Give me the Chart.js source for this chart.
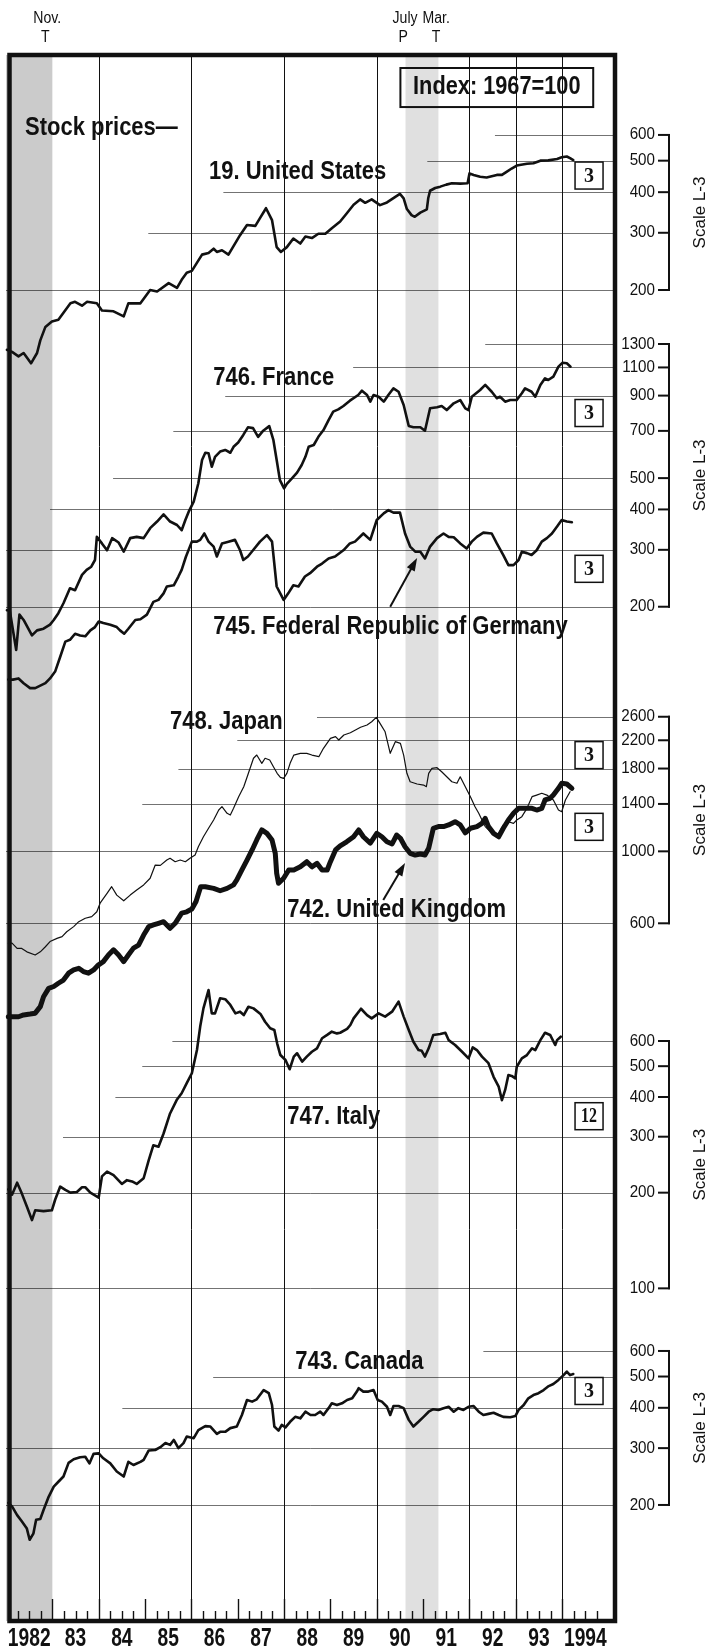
<!DOCTYPE html>
<html>
<head>
<meta charset="utf-8">
<title>Stock prices</title>
<script src="https://cdn.jsdelivr.net/npm/chart.js@4/dist/chart.umd.min.js"></script>
<style>
  html, body { margin: 0; padding: 0; background: #fff; }
  #chart { display: block; width: 707px; height: 1652px; }
</style>
</head>
<body>
<canvas id="chart" width="707" height="1652"></canvas>
<script>
// Monthly stock price indexes (1967=100), read as decimal years.
const usDates = [1982.02, 1982.13, 1982.27, 1982.38, 1982.54, 1982.67, 1982.74, 1982.85, 1982.99, 1983.13, 1983.39, 1983.49, 1983.64, 1983.75, 1983.96, 1984.07, 1984.32, 1984.54, 1984.64, 1984.9, 1985.11, 1985.26, 1985.51, 1985.69, 1985.79, 1985.9, 1986.01, 1986.23, 1986.37, 1986.48, 1986.55, 1986.66, 1986.8, 1987.05, 1987.2, 1987.38, 1987.48, 1987.61, 1987.74, 1987.84, 1987.93, 1988.06, 1988.2, 1988.35, 1988.46, 1988.6, 1988.74, 1988.89, 1989.03, 1989.21, 1989.35, 1989.5, 1989.64, 1989.75, 1989.89, 1989.96, 1990.07, 1990.22, 1990.4, 1990.5, 1990.58, 1990.65, 1990.75, 1990.82, 1990.94, 1991.08, 1991.11, 1991.15, 1991.26, 1991.37, 1991.5, 1991.62, 1991.8, 1991.96, 1992.0, 1992.09, 1992.23, 1992.37, 1992.59, 1992.7, 1992.8, 1992.91, 1993.02, 1993.24, 1993.38, 1993.53, 1993.7, 1993.89, 1993.99, 1994.1, 1994.17, 1994.24];
const usIndex = [131, 129, 125, 128, 119, 128, 140, 154, 160, 162, 182, 184, 179, 184, 182, 173, 172, 166, 182, 182, 200, 198, 210, 203, 215, 226, 229, 257, 260, 268, 262, 265, 257, 295, 317, 315, 333, 357, 328, 271, 262, 271, 288, 278, 292, 289, 298, 298, 310, 325, 344, 366, 380, 371, 380, 374, 365, 372, 387, 395, 383, 355, 340, 336, 346, 354, 383, 404, 412, 416, 422, 426, 425, 426, 457, 452, 446, 444, 452, 452, 462, 473, 483, 489, 491, 500, 501, 506, 512, 515, 509, 502];

const frDates = [1982.02, 1982.08, 1982.22, 1982.29, 1982.38, 1982.56, 1982.67, 1982.81, 1982.95, 1983.03, 1983.13, 1983.24, 1983.38, 1983.49, 1983.64, 1983.74, 1983.84, 1983.92, 1983.96, 1984.07, 1984.18, 1984.29, 1984.43, 1984.54, 1984.68, 1984.82, 1984.97, 1985.11, 1985.26, 1985.4, 1985.54, 1985.69, 1985.79, 1985.87, 1985.94, 1986.05, 1986.15, 1986.23, 1986.3, 1986.37, 1986.44, 1986.51, 1986.62, 1986.73, 1986.84, 1986.91, 1987.01, 1987.12, 1987.22, 1987.33, 1987.44, 1987.55, 1987.68, 1987.77, 1987.84, 1987.91, 1988.0, 1988.06, 1988.17, 1988.28, 1988.38, 1988.46, 1988.53, 1988.64, 1988.74, 1988.85, 1988.96, 1989.06, 1989.17, 1989.28, 1989.42, 1989.6, 1989.68, 1989.79, 1989.86, 1989.93, 1990.04, 1990.15, 1990.25, 1990.36, 1990.47, 1990.58, 1990.69, 1990.79, 1990.94, 1991.04, 1991.15, 1991.3, 1991.4, 1991.51, 1991.66, 1991.8, 1991.91, 1991.98, 1992.05, 1992.23, 1992.34, 1992.48, 1992.59, 1992.66, 1992.77, 1992.88, 1993.02, 1993.13, 1993.2, 1993.34, 1993.42, 1993.53, 1993.63, 1993.7, 1993.81, 1993.92, 1994.01, 1994.1, 1994.18];
const frIndex = [195, 195, 147, 189, 182, 163, 169, 171, 176, 182, 191, 205, 228, 225, 251, 260, 266, 279, 329, 314, 299, 326, 316, 296, 326, 329, 326, 350, 367, 386, 367, 358, 345, 371, 393, 423, 482, 569, 599, 597, 542, 582, 604, 611, 599, 625, 644, 680, 718, 714, 671, 701, 724, 655, 569, 493, 465, 480, 499, 520, 549, 582, 625, 633, 671, 704, 756, 803, 816, 836, 868, 904, 932, 904, 862, 904, 893, 862, 904, 948, 925, 842, 725, 718, 718, 701, 822, 828, 836, 812, 852, 872, 822, 812, 893, 937, 971, 925, 883, 893, 862, 872, 872, 915, 948, 925, 893, 971, 1018, 1006, 1030, 1106, 1138, 1133, 1106];

const deDates = [1982.05, 1982.15, 1982.27, 1982.38, 1982.52, 1982.63, 1982.74, 1982.85, 1982.95, 1983.06, 1983.17, 1983.28, 1983.38, 1983.49, 1983.6, 1983.71, 1983.82, 1983.92, 1984.0, 1984.1, 1984.25, 1984.39, 1984.46, 1984.55, 1984.64, 1984.79, 1984.9, 1985.04, 1985.18, 1985.29, 1985.4, 1985.47, 1985.62, 1985.72, 1985.79, 1985.88, 1986.01, 1986.12, 1986.19, 1986.28, 1986.37, 1986.48, 1986.55, 1986.66, 1986.8, 1986.94, 1987.05, 1987.12, 1987.22, 1987.33, 1987.48, 1987.63, 1987.74, 1987.84, 1987.99, 1988.09, 1988.2, 1988.31, 1988.45, 1988.56, 1988.71, 1988.82, 1988.96, 1989.1, 1989.28, 1989.42, 1989.53, 1989.71, 1989.86, 1990.0, 1990.15, 1990.25, 1990.36, 1990.5, 1990.61, 1990.72, 1990.83, 1990.94, 1991.04, 1991.15, 1991.3, 1991.44, 1991.55, 1991.66, 1991.8, 1991.94, 1992.05, 1992.16, 1992.3, 1992.48, 1992.59, 1992.73, 1992.84, 1992.95, 1993.06, 1993.13, 1993.24, 1993.34, 1993.45, 1993.56, 1993.67, 1993.78, 1993.89, 1993.99, 1994.1, 1994.21];
const deIndex = [119, 119, 120, 116, 112, 112, 114, 116, 120, 126, 140, 156, 158, 165, 163, 162, 169, 173, 180, 178, 176, 173, 169, 165, 171, 182, 183, 189, 207, 210, 220, 231, 233, 248, 260, 285, 318, 318, 322, 337, 318, 307, 286, 314, 318, 322, 299, 279, 286, 299, 318, 333, 318, 231, 210, 220, 233, 231, 248, 254, 266, 272, 282, 286, 299, 314, 318, 337, 322, 371, 389, 398, 391, 391, 337, 307, 296, 296, 282, 307, 326, 337, 329, 328, 314, 303, 318, 329, 339, 337, 314, 289, 269, 269, 279, 296, 293, 289, 299, 318, 326, 337, 354, 371, 367, 365];

const jpDates = [1982.05, 1982.13, 1982.24, 1982.34, 1982.45, 1982.63, 1982.74, 1982.85, 1982.95, 1983.1, 1983.21, 1983.31, 1983.46, 1983.57, 1983.71, 1983.85, 1983.96, 1984.03, 1984.18, 1984.28, 1984.39, 1984.54, 1984.68, 1984.82, 1984.97, 1985.11, 1985.22, 1985.33, 1985.47, 1985.54, 1985.65, 1985.76, 1985.87, 1985.97, 1986.08, 1986.15, 1986.26, 1986.37, 1986.48, 1986.59, 1986.66, 1986.77, 1986.84, 1986.91, 1987.02, 1987.13, 1987.23, 1987.34, 1987.41, 1987.52, 1987.59, 1987.69, 1987.77, 1987.85, 1987.92, 1987.99, 1988.06, 1988.13, 1988.21, 1988.35, 1988.49, 1988.6, 1988.75, 1988.85, 1989.0, 1989.11, 1989.18, 1989.29, 1989.43, 1989.54, 1989.65, 1989.79, 1989.89, 1989.99, 1990.07, 1990.18, 1990.29, 1990.4, 1990.51, 1990.58, 1990.65, 1990.72, 1990.87, 1991.01, 1991.07, 1991.12, 1991.19, 1991.3, 1991.4, 1991.51, 1991.62, 1991.73, 1991.8, 1991.91, 1992.02, 1992.12, 1992.2, 1992.27, 1992.34, 1992.45, 1992.59, 1992.73, 1992.84, 1992.95, 1993.02, 1993.13, 1993.24, 1993.35, 1993.45, 1993.56, 1993.67, 1993.81, 1993.92, 1993.99, 1994.07, 1994.17];
const jpIndex = [521, 521, 502, 502, 490, 479, 490, 508, 527, 539, 546, 565, 586, 607, 622, 629, 651, 692, 742, 778, 733, 704, 733, 760, 788, 826, 907, 905, 940, 952, 929, 940, 929, 952, 974, 1033, 1109, 1178, 1249, 1341, 1373, 1310, 1294, 1357, 1474, 1582, 1740, 1936, 1981, 1868, 1936, 1912, 1824, 1740, 1691, 1679, 1740, 1868, 1981, 2005, 2005, 1981, 1958, 2078, 2231, 2257, 2204, 2284, 2321, 2366, 2413, 2452, 2510, 2589, 2481, 2337, 2005, 2178, 2153, 1981, 1740, 1639, 1613, 1601, 1582, 1740, 1803, 1811, 1760, 1698, 1639, 1621, 1698, 1582, 1474, 1373, 1310, 1249, 1192, 1150, 1109, 1206, 1234, 1220, 1249, 1279, 1357, 1474, 1491, 1510, 1491, 1440, 1341, 1325, 1440, 1527];

const ukDates = [1982.05, 1982.13, 1982.27, 1982.38, 1982.52, 1982.63, 1982.74, 1982.81, 1982.92, 1983.03, 1983.13, 1983.24, 1983.35, 1983.46, 1983.57, 1983.67, 1983.78, 1983.89, 1983.99, 1984.1, 1984.21, 1984.32, 1984.43, 1984.54, 1984.64, 1984.75, 1984.86, 1984.97, 1985.08, 1985.18, 1985.29, 1985.4, 1985.54, 1985.65, 1985.79, 1985.9, 1986.01, 1986.1, 1986.2, 1986.3, 1986.48, 1986.62, 1986.77, 1986.91, 1986.98, 1987.09, 1987.2, 1987.31, 1987.41, 1987.52, 1987.63, 1987.74, 1987.81, 1987.84, 1987.88, 1987.99, 1988.1, 1988.21, 1988.35, 1988.49, 1988.6, 1988.71, 1988.82, 1988.93, 1989.0, 1989.11, 1989.21, 1989.35, 1989.5, 1989.61, 1989.71, 1989.86, 1990.0, 1990.11, 1990.22, 1990.33, 1990.43, 1990.51, 1990.61, 1990.72, 1990.83, 1990.94, 1991.04, 1991.12, 1991.22, 1991.33, 1991.44, 1991.55, 1991.69, 1991.8, 1991.91, 1992.02, 1992.16, 1992.27, 1992.34, 1992.41, 1992.52, 1992.63, 1992.73, 1992.84, 1992.95, 1993.06, 1993.2, 1993.35, 1993.45, 1993.56, 1993.63, 1993.74, 1993.81, 1993.92, 1993.99, 1994.1, 1994.21];
const ukIndex = [309, 309, 309, 313, 315, 317, 332, 356, 378, 383, 392, 401, 421, 431, 436, 426, 421, 431, 446, 457, 479, 497, 479, 457, 479, 503, 514, 552, 586, 593, 600, 607, 579, 600, 645, 651, 664, 700, 778, 778, 769, 756, 769, 788, 816, 876, 940, 1010, 1084, 1164, 1136, 1084, 986, 856, 797, 826, 876, 876, 896, 929, 896, 918, 876, 876, 929, 1010, 1040, 1070, 1109, 1164, 1109, 1060, 1136, 1109, 1070, 1054, 1123, 1097, 1033, 986, 974, 981, 974, 1022, 1178, 1192, 1192, 1206, 1234, 1206, 1141, 1178, 1192, 1220, 1264, 1192, 1136, 1109, 1178, 1249, 1310, 1357, 1357, 1357, 1341, 1357, 1440, 1457, 1491, 1564, 1621, 1613, 1564];

const itDates = [1982.05, 1982.13, 1982.24, 1982.34, 1982.45, 1982.56, 1982.63, 1982.81, 1982.99, 1983.06, 1983.17, 1983.28, 1983.39, 1983.53, 1983.64, 1983.71, 1983.82, 1984.0, 1984.07, 1984.18, 1984.32, 1984.5, 1984.61, 1984.72, 1984.82, 1984.97, 1985.08, 1985.18, 1985.29, 1985.4, 1985.54, 1985.69, 1985.79, 1985.9, 1986.01, 1986.12, 1986.19, 1986.26, 1986.37, 1986.44, 1986.51, 1986.62, 1986.73, 1986.84, 1986.95, 1987.05, 1987.13, 1987.23, 1987.34, 1987.49, 1987.59, 1987.7, 1987.79, 1987.85, 1987.92, 1988.03, 1988.12, 1988.21, 1988.28, 1988.39, 1988.49, 1988.6, 1988.71, 1988.82, 1988.93, 1989.03, 1989.14, 1989.21, 1989.36, 1989.43, 1989.5, 1989.66, 1989.79, 1989.89, 1990.04, 1990.18, 1990.33, 1990.47, 1990.58, 1990.69, 1990.79, 1990.9, 1990.97, 1991.04, 1991.12, 1991.22, 1991.37, 1991.48, 1991.55, 1991.69, 1991.84, 1991.98, 1992.07, 1992.16, 1992.27, 1992.41, 1992.52, 1992.63, 1992.7, 1992.77, 1992.84, 1992.91, 1992.99, 1993.02, 1993.13, 1993.24, 1993.35, 1993.42, 1993.53, 1993.63, 1993.74, 1993.85, 1993.89, 1993.97];
const itIndex = [205, 197, 215, 199, 181, 164, 176, 175, 176, 190, 209, 204, 200, 201, 208, 208, 200, 193, 225, 233, 227, 213, 219, 217, 213, 222, 253, 282, 279, 307, 355, 393, 411, 442, 475, 562, 666, 760, 868, 733, 733, 818, 812, 779, 733, 742, 724, 769, 760, 730, 690, 658, 650, 590, 542, 523, 489, 536, 549, 517, 536, 555, 569, 612, 627, 642, 634, 637, 655, 674, 707, 758, 724, 707, 733, 716, 742, 798, 716, 650, 597, 562, 559, 536, 569, 627, 631, 637, 604, 583, 555, 529, 573, 562, 536, 511, 463, 431, 391, 421, 469, 466, 458, 498, 529, 542, 569, 562, 604, 637, 627, 583, 604, 619];

const caDates = [1982.05, 1982.13, 1982.24, 1982.34, 1982.45, 1982.51, 1982.59, 1982.65, 1982.74, 1982.81, 1982.92, 1983.03, 1983.13, 1983.24, 1983.35, 1983.46, 1983.6, 1983.71, 1983.8, 1983.89, 1984.0, 1984.1, 1984.25, 1984.39, 1984.54, 1984.64, 1984.75, 1984.9, 1984.97, 1985.08, 1985.22, 1985.33, 1985.44, 1985.54, 1985.62, 1985.72, 1985.83, 1985.9, 1986.05, 1986.15, 1986.3, 1986.41, 1986.55, 1986.62, 1986.73, 1986.84, 1986.98, 1987.09, 1987.2, 1987.31, 1987.41, 1987.56, 1987.67, 1987.74, 1987.79, 1987.88, 1987.95, 1988.03, 1988.13, 1988.24, 1988.35, 1988.46, 1988.57, 1988.67, 1988.78, 1988.85, 1988.96, 1989.03, 1989.14, 1989.25, 1989.36, 1989.47, 1989.57, 1989.61, 1989.71, 1989.82, 1989.93, 1990.02, 1990.11, 1990.22, 1990.29, 1990.36, 1990.47, 1990.58, 1990.69, 1990.79, 1990.9, 1991.01, 1991.12, 1991.22, 1991.33, 1991.44, 1991.55, 1991.66, 1991.76, 1991.87, 1991.98, 1992.09, 1992.2, 1992.3, 1992.41, 1992.52, 1992.63, 1992.73, 1992.88, 1992.99, 1993.06, 1993.17, 1993.27, 1993.38, 1993.49, 1993.6, 1993.71, 1993.81, 1993.92, 1994.03, 1994.1, 1994.17, 1994.24];
const caIndex = [203, 198, 186, 178, 169, 156, 163, 180, 181, 193, 212, 228, 236, 245, 270, 277, 281, 282, 269, 288, 289, 279, 269, 254, 245, 272, 266, 272, 276, 295, 296, 302, 311, 307, 318, 300, 311, 326, 322, 341, 351, 350, 332, 337, 337, 346, 350, 380, 423, 418, 425, 454, 444, 408, 350, 340, 354, 348, 362, 375, 371, 389, 380, 380, 389, 380, 399, 413, 408, 413, 423, 428, 449, 460, 449, 449, 454, 423, 418, 403, 380, 405, 405, 399, 367, 350, 362, 375, 389, 396, 394, 399, 403, 389, 399, 394, 403, 405, 389, 380, 383, 386, 380, 375, 374, 377, 394, 408, 428, 438, 444, 454, 467, 474, 488, 505, 518, 505, 509];

// Scale L-3 tick values for each panel, top to bottom.
const usTicks = [600, 500, 400, 300, 200];
const frTicks = [1300, 1100, 900, 700, 500, 400, 300, 200];
const jpTicks = [2600, 2200, 1800, 1400, 1000, 600];
const itTicks = [600, 500, 400, 300, 200, 100];
const caTicks = [600, 500, 400, 300, 200];

const yearLabels = ['1982', '83', '84', '85', '86', '87', '88', '89', '90', '91', '92', '93', '1994'];

// Stacked log axes: one band per panel down the right side.
const panels = [
  { id: 'us', ticks: usTicks, ruleFrom: [1992.55, 1991.09, 1986.69, 1985.07, 1982], min: 165.2, max: 1057, weight: 262 },
  { id: 'fr', ticks: frTicks, ruleFrom: [1992.34, 1989.49, 1986.73, 1985.61, 1984.31, 1982.95, 1982, 1982], min: 134.9, max: 1575.6, weight: 345 },
  { id: 'jp', ticks: jpTicks, ruleFrom: [1988.71, 1986.99, 1985.72, 1984.94, 1982, 1982], min: 395.5, max: 3835, weight: 320 },
  { id: 'it', ticks: itTicks, ruleFrom: [1985.59, 1984.94, 1984.36, 1983.23, 1982, 1982], min: 79.8, max: 920, weight: 337.5 },
  { id: 'ca', ticks: caTicks, ruleFrom: [1992.3, 1986.47, 1984.51, 1982, 1982], min: 87.4, max: 751, weight: 301.5 },
];

const series = [
  { axis: 'us', dates: usDates, values: usIndex, width: 2.6 },
  { axis: 'fr', dates: frDates, values: frIndex, width: 2.6 },
  { axis: 'fr', dates: deDates, values: deIndex, width: 2.6 },
  { axis: 'jp', dates: jpDates, values: jpIndex, width: 1.2 },
  { axis: 'jp', dates: ukDates, values: ukIndex, width: 5 },
  { axis: 'it', dates: itDates, values: itIndex, width: 2.6 },
  { axis: 'ca', dates: caDates, values: caIndex, width: 2.6 },
];

const recessions = [[1982, 1983.0], [1990.62, 1991.33]];
const recessionFills = ['#cbcbcb', '#e0e0e0'];
const yearRules = [1984, 1986, 1988, 1990, 1992, 1993, 1994];
const turnLabels = [
  { text: 'Nov.', at: 1982.89, row: 0 }, { text: 'T', at: 1982.85, row: 1 },
  { text: 'July', at: 1990.61, row: 0 }, { text: 'P', at: 1990.57, row: 1 },
  { text: 'Mar.', at: 1991.28, row: 0 }, { text: 'T', at: 1991.28, row: 1 },
];

const seriesNotes = [
  { text: 'Stock prices\u2014', axis: 'us', at: 1982.41, value: 630 },
  { text: '19. United States', axis: 'us', at: 1986.38, value: 461 },
  { text: '746. France', axis: 'fr', at: 1986.47, value: 1020 },
  { text: '745. Federal Republic of Germany', axis: 'fr', at: 1986.47, value: 173 },
  { text: '748. Japan', axis: 'jp', at: 1985.54, value: 2504 },
  { text: '742. United Kingdom', axis: 'jp', at: 1988.07, value: 659 },
  { text: '747. Italy', axis: 'it', at: 1988.07, value: 346 },
  { text: '743. Canada', axis: 'ca', at: 1988.24, value: 555 },
];
const spanBoxes = [
  { text: '3', axis: 'us', value: 450 }, { text: '3', axis: 'fr', value: 795 },
  { text: '3', axis: 'fr', value: 262 }, { text: '3', axis: 'jp', value: 1980 },
  { text: '3', axis: 'jp', value: 1190 }, { text: '12', axis: 'it', value: 348 },
  { text: '3', axis: 'ca', value: 451 },
];
const pointers = [
  { axis: 'fr', from: [1990.29, 200], to: [1990.87, 283] },
  { axis: 'jp', from: [1990.14, 708], to: [1990.61, 920] },
];

const SANS = "'Liberation Sans', Arial, Helvetica, sans-serif";
const SERIF = "'Liberation Serif', 'Times New Roman', serif";

function drawText(ctx, text, x, y, opts = {}) {
  const { size = 25, weight = 'bold', squeeze = 0.88, align = 'left', family = SANS, rotate = 0 } = opts;
  ctx.save();
  ctx.translate(x, y);
  if (rotate) ctx.rotate(rotate);
  ctx.scale(squeeze, 1);
  ctx.font = `${weight} ${size}px ${family}`;
  ctx.textAlign = align;
  ctx.textBaseline = 'middle';
  ctx.fillStyle = '#111';
  ctx.fillText(text, 0, 0);
  ctx.restore();
}

function line(ctx, x1, y1, x2, y2) {
  ctx.beginPath();
  ctx.moveTo(x1, y1);
  ctx.lineTo(x2, y2);
  ctx.stroke();
}

const panelDecor = {
  id: 'panelDecor',
  beforeDatasetsDraw(chart) {
    const { ctx, chartArea: area, scales } = chart;
    const xs = scales.x;
    ctx.save();

    recessions.forEach(([from, to], i) => {
      const left = Math.max(xs.getPixelForValue(from), area.left);
      ctx.fillStyle = recessionFills[i];
      ctx.fillRect(left, area.top, xs.getPixelForValue(to) - left, area.bottom - area.top);
    });

    // horizontal rules run in from the right edge at each scale value
    ctx.strokeStyle = 'rgba(0, 0, 0, 0.55)';
    ctx.lineWidth = 1;
    panels.forEach((p) => {
      const ys = scales[p.id];
      p.ticks.forEach((v, i) => {
        const y = Math.round(ys.getPixelForValue(v)) + 0.5;
        line(ctx, Math.max(xs.getPixelForValue(p.ruleFrom[i]), area.left), y, area.right, y);
      });
    });

    ctx.strokeStyle = '#111';
    yearRules.forEach((yr) => {
      const x = Math.round(xs.getPixelForValue(yr)) + 0.5;
      line(ctx, x, area.top, x, area.bottom);
    });
    ctx.restore();
  },

  afterDatasetsDraw(chart) {
    const { ctx, chartArea: area, scales } = chart;
    const xs = scales.x;
    ctx.save();
    ctx.strokeStyle = '#111';
    ctx.fillStyle = '#111';

    // month ticks along the bottom: long at each year, short at quarters
    ctx.lineWidth = 1.4;
    for (let yr = 1982; yr <= 1994; yr++) {
      for (let q = 0; q < 4; q++) {
        if (yr === 1982 && q === 0) continue;
        const x = Math.round(xs.getPixelForValue(yr + q / 4)) + 0.5;
        line(ctx, x, area.bottom - 2, x, area.bottom - 2 - (q === 0 ? 20 : 8));
      }
    }
    yearLabels.forEach((label, i) => {
      drawText(ctx, label, xs.getPixelForValue(1982.5 + i), area.bottom + 18, { squeeze: 0.77, align: 'center' });
    });

    // frame
    ctx.lineWidth = 4.5;
    ctx.strokeRect(area.left + 3.5, area.top, area.right - area.left - 3.5, area.bottom - area.top);

    // right-hand scales with brackets
    panels.forEach((p) => {
      const ys = scales[p.id];
      const top = ys.getPixelForValue(p.ticks[0]);
      const bottom = ys.getPixelForValue(p.ticks[p.ticks.length - 1]);
      ctx.lineWidth = 2;
      line(ctx, area.right + 54, top - 1, area.right + 54, bottom + 1);
      p.ticks.forEach((v) => {
        const y = ys.getPixelForValue(v);
        line(ctx, area.right + 43, y, area.right + 55, y);
        drawText(ctx, String(v), area.right + 40, y, { size: 16.5, weight: 'normal', squeeze: 0.92, align: 'right' });
      });
      drawText(ctx, 'Scale L-3', area.right + 85, (top + bottom) / 2, {
        size: 17, weight: 'normal', squeeze: 1, align: 'center', rotate: -Math.PI / 2,
      });
    });

    // turning-point dates above the frame
    turnLabels.forEach((t) => {
      drawText(ctx, t.text, xs.getPixelForValue(t.at), t.row === 0 ? 19 : 38, {
        size: 16, weight: 'normal', squeeze: 0.88, align: 'center',
      });
    });

    seriesNotes.forEach((n) => {
      drawText(ctx, n.text, xs.getPixelForValue(n.at), scales[n.axis].getPixelForValue(n.value));
    });

    // span boxes at the right edge
    spanBoxes.forEach((b) => {
      const cx = xs.getPixelForValue(1994.58);
      const cy = scales[b.axis].getPixelForValue(b.value);
      ctx.lineWidth = 1.5;
      ctx.fillStyle = '#fff';
      ctx.fillRect(cx - 14, cy - 13.5, 28, 27);
      ctx.strokeRect(cx - 14, cy - 13.5, 28, 27);
      ctx.fillStyle = '#111';
      drawText(ctx, b.text, cx, cy + 1, { size: 20, family: SERIF, squeeze: b.text.length > 1 ? 0.8 : 1, align: 'center' });
    });

    // index base box
    const us = scales.us;
    const bx1 = xs.getPixelForValue(1990.51);
    const bx2 = xs.getPixelForValue(1994.67);
    const by1 = us.getPixelForValue(964);
    const by2 = us.getPixelForValue(731);
    ctx.lineWidth = 2;
    ctx.strokeRect(bx1, by1, bx2 - bx1, by2 - by1);
    drawText(ctx, 'Index: 1967=100', (bx1 + bx2) / 2, (by1 + by2) / 2, { squeeze: 0.87, align: 'center' });

    // arrows from labels to lines
    pointers.forEach((a) => {
      const ys = scales[a.axis];
      const x1 = xs.getPixelForValue(a.from[0]);
      const y1 = ys.getPixelForValue(a.from[1]);
      const x2 = xs.getPixelForValue(a.to[0]);
      const y2 = ys.getPixelForValue(a.to[1]);
      const ang = Math.atan2(y2 - y1, x2 - x1);
      ctx.lineWidth = 2;
      line(ctx, x1, y1, x2 - 8 * Math.cos(ang), y2 - 8 * Math.sin(ang));
      ctx.beginPath();
      ctx.moveTo(x2, y2);
      ctx.lineTo(x2 - 13 * Math.cos(ang) + 4.5 * Math.sin(ang), y2 - 13 * Math.sin(ang) - 4.5 * Math.cos(ang));
      ctx.lineTo(x2 - 13 * Math.cos(ang) - 4.5 * Math.sin(ang), y2 - 13 * Math.sin(ang) + 4.5 * Math.cos(ang));
      ctx.closePath();
      ctx.fill();
    });
    ctx.restore();
  },
};

const scales = {
  x: { type: 'linear', min: 1982, max: 1995.14, display: false },
};
panels.forEach((p) => {
  scales[p.id] = {
    type: 'logarithmic',
    position: 'right',
    stack: 'scaleL3',
    stackWeight: p.weight,
    min: p.min,
    max: p.max,
    bounds: 'data',
    clip: false,
    grid: { display: false, drawTicks: false },
    border: { display: false },
    ticks: { display: false },
    afterFit: (scale) => { scale.width = 92; },
  };
});

const chart = new Chart(document.getElementById('chart'), {
  type: 'line',
  data: {
    datasets: series.map((s) => ({
      data: s.dates.map((d, i) => ({ x: d, y: s.values[i] })),
      yAxisID: s.axis,
      borderColor: '#111',
      borderWidth: s.width,
      borderJoinStyle: 'round',
      borderCapStyle: 'round',
      pointRadius: 0,
      tension: 0,
      clip: false,
    })),
  },
  options: {
    responsive: false,
    animation: false,
    layout: { padding: { left: 6, top: 55, right: 0, bottom: 31 } },
    plugins: { legend: { display: false }, tooltip: { enabled: false } },
    scales,
  },
  plugins: [panelDecor],
});
</script>
</body>
</html>
